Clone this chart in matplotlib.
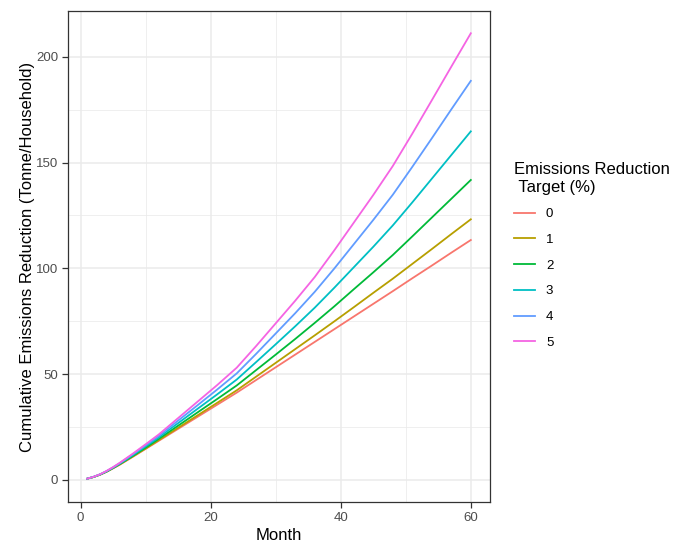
import matplotlib
matplotlib.use("Agg")
import matplotlib.pyplot as plt
from matplotlib.ticker import MultipleLocator

plt.rcParams['font.family'] = ['Liberation Sans', 'DejaVu Sans']

month = [1, 2, 3, 4, 5, 6, 8, 10, 12, 15, 18, 21, 24, 27, 30, 33, 36, 39, 42, 45, 48, 51, 54, 57, 60]

# cumulative emissions reduction per target (%)
target_0 = [0.5, 1.3, 2.4, 3.8, 5.4, 7.1, 10.8, 14.6, 18.4, 24.1, 29.8, 35.5, 41.2, 47.2, 53.2,
            59.2, 65.2, 71.2, 77.2, 83.2, 89.2, 95.3, 101.3, 107.4, 113.4]
target_1 = [0.5, 1.3, 2.4, 3.8, 5.5, 7.2, 11.0, 14.8, 18.7, 24.6, 30.5, 36.4, 42.3, 48.8, 55.3,
            61.8, 68.3, 74.9, 81.6, 88.4, 95.1, 102.1, 109.1, 116.2, 123.2]
target_2 = [0.5, 1.3, 2.5, 3.9, 5.6, 7.4, 11.2, 15.2, 19.3, 25.6, 31.9, 38.2, 44.6, 51.9, 59.2,
            66.6, 74.2, 82.0, 90.1, 98.1, 106.3, 115.1, 124.0, 132.9, 141.8]
target_3 = [0.5, 1.4, 2.5, 4.0, 5.7, 7.6, 11.6, 15.8, 20.0, 26.8, 33.6, 40.4, 47.4, 55.7, 64.1,
            72.6, 81.4, 90.8, 100.5, 110.2, 120.3, 131.2, 142.4, 153.6, 164.8]
target_4 = [0.5, 1.4, 2.6, 4.1, 5.9, 7.8, 12.0, 16.3, 20.7, 28.0, 35.3, 42.7, 50.3, 59.6, 69.2,
            78.8, 88.9, 99.9, 111.4, 122.9, 134.8, 148.0, 161.5, 175.2, 188.7]
target_5 = [0.5, 1.4, 2.6, 4.2, 6.0, 8.0, 12.3, 16.8, 21.4, 29.2, 37.0, 44.8, 53.0, 63.3, 74.0,
            84.7, 95.9, 108.5, 121.6, 134.7, 148.4, 163.7, 179.5, 195.4, 211.2]

labels = ['0', '1', '2', '3', '4', '5']
series = [target_0, target_1, target_2, target_3, target_4, target_5]
colors = ['#F8766D', '#B79F00', '#00BA38', '#00BFC4', '#619CFF', '#F564E3']

fig = plt.figure(figsize=(6.8, 5.42), dpi=100)
ax = fig.add_axes([68 / 680, 1 - 502 / 542, (490 - 68) / 680, (502 - 11) / 542])

for vals, lab, col in zip(series, labels, colors):
    ax.plot(month, vals, color=col, lw=1.3, label=lab)

# ggplot-like expansion of 5%
xmin, xmax = min(month), max(month)
ymin = min(min(s) for s in series)
ymax = max(max(s) for s in series)
dx = (xmax - xmin) * 0.05
dy = (ymax - ymin) * 0.05
ax.set_xlim(xmin - dx, xmax + dx)
ax.set_ylim(ymin - dy - 0.5, ymax + dy)

ax.xaxis.set_major_locator(MultipleLocator(20))
ax.xaxis.set_minor_locator(MultipleLocator(10))
ax.yaxis.set_major_locator(MultipleLocator(50))
ax.yaxis.set_minor_locator(MultipleLocator(25))
ax.grid(which='major', color='#EBEBEB', lw=1.1)
ax.grid(which='minor', color='#EBEBEB', lw=0.55)
ax.set_axisbelow(True)

for sp in ax.spines.values():
    sp.set_color('#333333')
    sp.set_linewidth(0.9)
ax.tick_params(which='major', length=4, width=0.9, color='#333333', labelcolor='#4D4D4D',
               labelsize=9.5, pad=3)
ax.tick_params(which='minor', length=0)

ax.set_xlabel('Month', fontsize=12, color='black', labelpad=3)
ax.set_ylabel('Cumulative Emissions Reduction (Tonne/Household)', fontsize=12, color='black', labelpad=1)

leg = ax.legend(title='Emissions Reduction\n Target (%)', loc='upper left',
                bbox_to_anchor=(509 / 680, 1 - 157 / 542), bbox_transform=fig.transFigure,
                frameon=False, fontsize=9.5, title_fontsize=12, handlelength=1.6,
                handletextpad=0.8, labelspacing=1.02, borderaxespad=0)
leg._legend_box.align = 'left'

fig.savefig('out.png', dpi=100)
